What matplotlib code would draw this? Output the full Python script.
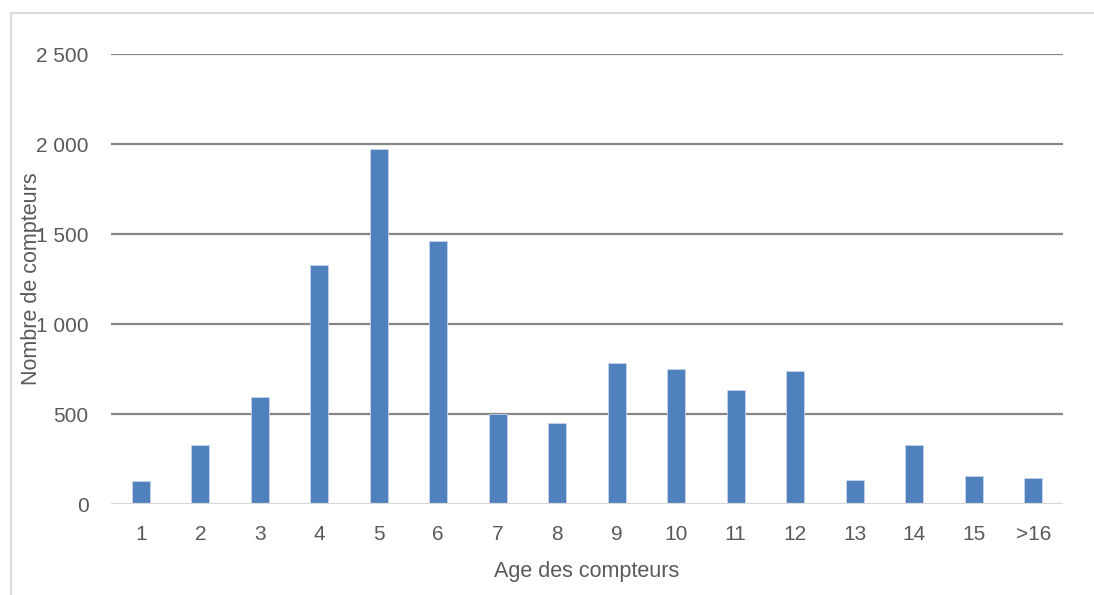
import matplotlib
matplotlib.use("Agg")
import matplotlib.pyplot as plt
from matplotlib.patches import Rectangle
from matplotlib.ticker import FuncFormatter

ages = ["1", "2", "3", "4", "5", "6", "7", "8", "9", "10", "11", "12", "13", "14", "15", ">16"]
counts = [129, 329, 598, 1329, 1974, 1463, 500, 453, 783, 750, 635, 739, 135, 329, 156, 146]

plt.rcParams['font.family'] = ['Liberation Sans Narrow', 'Liberation Sans', 'DejaVu Sans']
grey_txt = '#595959'

fig = plt.figure(figsize=(10.94, 5.95), dpi=100)
ax = fig.add_axes([111 / 1094, 1 - 504.3 / 595, (1063 - 111) / 1094, 450 / 595])

# light frame around the chart area
fig.patches.append(Rectangle((11 / 1094, -0.05), 1.1, 1 - 13 / 595 + 0.05,
                             transform=fig.transFigure, fill=False,
                             edgecolor='#d9d9d9', linewidth=1.5))

x = range(len(ages))
ax.bar(x, counts, width=0.31, color='#4F81BD', edgecolor='#c6d5ea', linewidth=0.6, zorder=3)

ax.set_xlim(-0.5, len(ages) - 0.5)
ax.set_ylim(0, 2500)
ax.set_yticks([0, 500, 1000, 1500, 2000, 2500])
ax.yaxis.set_major_formatter(FuncFormatter(lambda v, p: f"{int(v):,}".replace(",", " ")))
ax.set_xticks(list(x))
ax.set_xticklabels(ages)

for v in [500, 1000, 1500, 2000, 2500]:
    ax.axhline(v, color='#868686', linewidth=1.6, zorder=1)
ax.axhline(0, color='#d9d9d9', linewidth=1.6, zorder=4)

for s in ax.spines.values():
    s.set_visible(False)
ax.tick_params(axis='both', length=0, labelsize=15, labelcolor=grey_txt)
ax.tick_params(axis='y', pad=16)
ax.tick_params(axis='x', pad=15)

fig.text(587 / 1094, 1 - 572 / 595, "Age des compteurs", fontsize=15.5,
         color=grey_txt, ha='center', va='center')
fig.text(32 / 1094, 1 - 279 / 595, "Nombre de compteurs", rotation=90,
         fontsize=15.5, color=grey_txt, ha='center', va='center')

fig.savefig("out.png", dpi=100)
